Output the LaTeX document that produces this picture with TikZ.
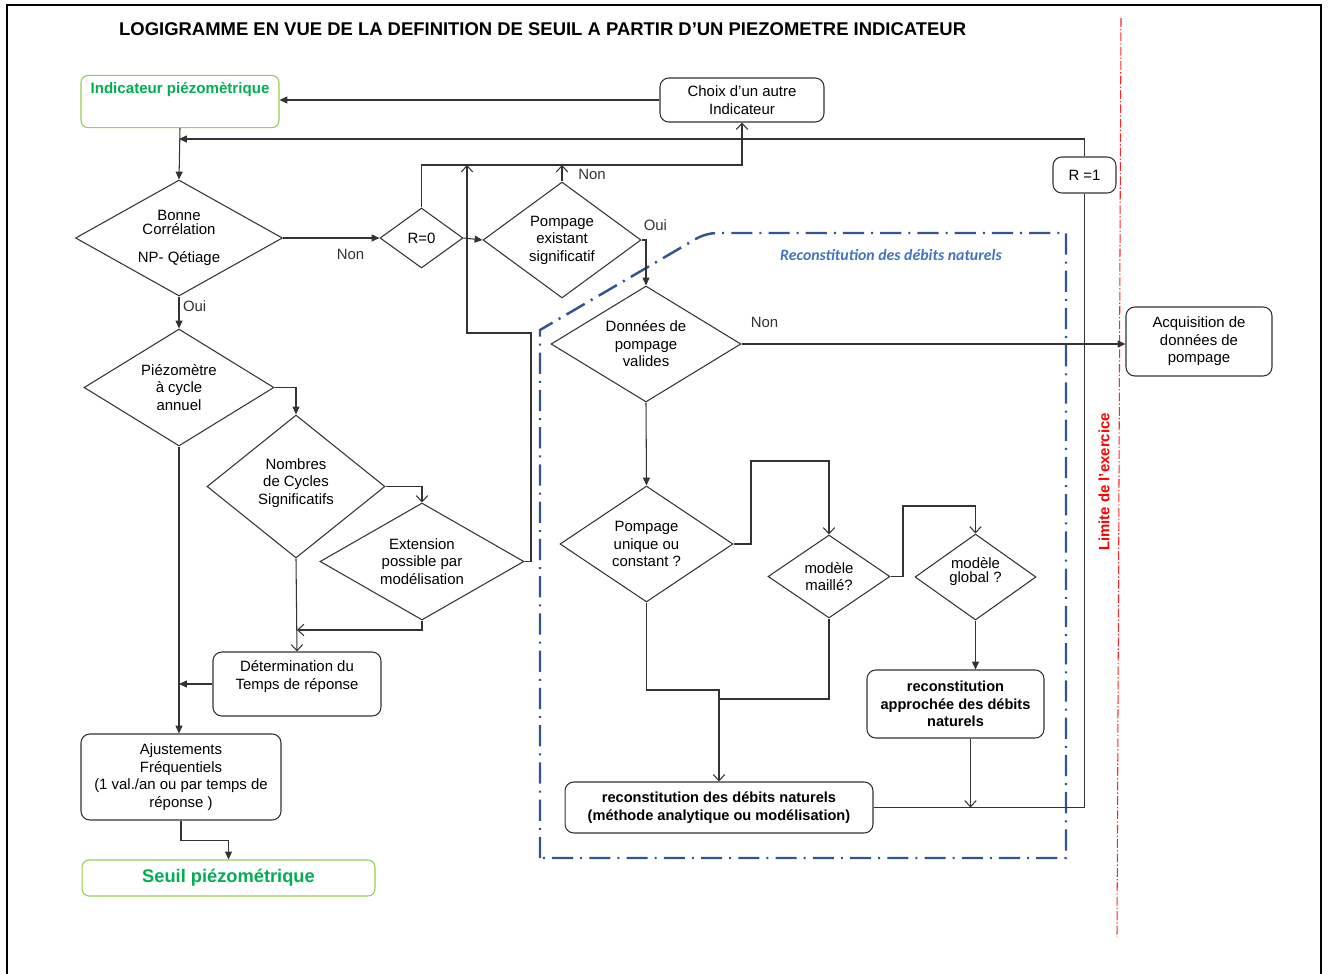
\documentclass[tikz,border=0pt]{standalone}
\usepackage{fontspec}
\setmainfont{Liberation Sans}
\newfontfamily\calibfont{Carlito}
\usetikzlibrary{arrows.meta,shapes.geometric}
\definecolor{PiezoGreen}{HTML}{00B050}
\definecolor{PiezoLime}{HTML}{92D050}
\definecolor{ReconBlue}{HTML}{2F5597}
\definecolor{ReconText}{HTML}{4472C4}
\definecolor{LimitRed}{HTML}{FF0000}

\begin{document}
\begin{tikzpicture}[x=0.02cm,y=-0.02cm,font=\fontsize{8.5}{10}\selectfont]
\tikzset{boite/.style={draw=black!80,line width=0.6pt,rounded corners=5pt,align=center,inner sep=2pt},test/.style={diamond,aspect=1.5,draw=black!80,line width=0.6pt,align=center,inner sep=0pt},borne/.style={draw=PiezoLime,line width=0.6pt,rounded corners=4pt,text=PiezoGreen,font=\fontsize{8.6}{10}\selectfont\bfseries},lien/.style={black!80,line width=0.6pt},arr/.style={lien,-{Triangle[length=4.5pt,width=4pt]}},arrv/.style={lien,-{Straight Barb[length=3.5pt,width=6.5pt]}},lbl/.style={inner sep=1pt},zone/.style={ReconBlue,line width=1.4pt,dash pattern=on 12pt off 4pt on 1.2pt off 4pt}}
\useasboundingbox (0,0) rectangle (1330,974);
\draw[line width=1.3pt] (7,974) -- (7,5) -- (1321,5) -- (1321,974);
\node[anchor=west,font=\fontsize{10.5}{12}\selectfont\bfseries] (titre) at (113,29) {LOGIGRAMME EN VUE DE LA DEFINITION DE SEUIL A PARTIR D'UN PIEZOMETRE INDICATEUR};
\draw[zone] (540,858) -- (540,330) [rounded corners=6pt] -- (706,233) [sharp corners] -- (1066,233) -- (1066,858) -- cycle;
\draw[LimitRed!85,line width=0.6pt,dash pattern=on 5pt off 1.2pt on 0.8pt off 1.2pt] (1121,18) -- (1117,937);
\node[text=ReconText,font=\calibfont\bfseries\itshape\fontsize{9}{11}\selectfont] (recon) at (891,255) {Reconstitution des débits naturels};
\node[rotate=90,text=LimitRed,font=\fontsize{8.5}{10}\selectfont\bfseries] (limite) at (1104,482) {Limite de l'exercice};
\node[borne,minimum width=3.96cm,minimum height=1.02cm,text height=7pt,text depth=16pt] (ind) at (180,101.5) {Indicateur piézomètrique};
\node[boite,minimum width=3.28cm,minimum height=0.88cm] (choix) at (742,100) {Choix d'un autre\\Indicateur};
\node[boite,minimum width=1.26cm,minimum height=0.72cm] (r1) at (1084.5,175) {R =1};
\node[test,minimum width=4.14cm,minimum height=2.32cm] (bc) at (179,238) {Bonne\\[-2pt]Corrélation\\[6pt]NP- Qétiage};
\node[test,minimum width=1.66cm,minimum height=1.2cm] (r0) at (421.5,238) {R=0};
\node[test,minimum width=3.16cm,minimum height=2.32cm] (pes) at (562,240) {Pompage\\existant\\significatif};
\node[test,minimum width=3.8cm,minimum height=2.34cm] (pca) at (179,387.5) {Piézomètre\\à cycle\\annuel};
\node[test,minimum width=3.56cm,minimum height=2.86cm] (ncs) at (296,486.5) {Nombres\\de Cycles\\Significatifs\\[-4pt]\mbox{}};
\node[test,minimum width=4.08cm,minimum height=2.34cm] (ext) at (422,561.5) {Extension\\possible par\\modélisation};
\node[boite,minimum width=3.36cm,minimum height=1.28cm] (det) at (297,684) {Détermination du\\Temps de réponse\\\mbox{}};
\node[boite,minimum width=4cm,minimum height=1.72cm] (aju) at (181,777) {Ajustements\\Fréquentiels\\(1 val./an ou par temps de\\réponse )};
\node[borne,minimum width=5.86cm,minimum height=0.72cm,font=\fontsize{10.4}{12}\selectfont\bfseries] (seuil) at (228.5,878) {Seuil piézométrique};
\node[test,minimum width=3.8cm,minimum height=2.32cm] (dpv) at (646,344) {Données de\\pompage\\valides};
\node[boite,minimum width=2.92cm,minimum height=1.38cm] (acq) at (1199,341.5) {Acquisition de\\données de\\pompage};
\node[test,minimum width=3.46cm,minimum height=2.32cm] (puc) at (646.5,544) {Pompage\\unique ou\\constant ?};
\node[test,minimum width=2.44cm,minimum height=1.66cm] (mm) at (829,576.5) {modèle\\maillé?};
\node[test,minimum width=2.42cm,minimum height=1.72cm] (mg) at (975.5,577) {modèle\\[-2pt]global ?\\[-2pt]\mbox{}};
\node[boite,minimum width=3.54cm,minimum height=1.36cm,font=\fontsize{8.3}{10}\selectfont\bfseries] (rap) at (955.5,704) {reconstitution\\approchée des débits\\naturels};
\node[boite,minimum width=6.16cm,minimum height=1.02cm,font=\fontsize{8.3}{10}\selectfont\bfseries] (rdn) at (719,807.5) {reconstitution des débits naturels\\(méthode analytique ou modélisation)};
\coordinate (jtop) at (179,139);
\coordinate (jnon) at (742,165);
\coordinate (jext) at (467,165);
\coordinate (jdet) at (297,630);
\coordinate (jrdn) at (719,690);
\coordinate (rapout) at ([xshift=0.3cm]rap.south);
\draw[arr] (choix.west) -- (choix.west -| ind.east);
\draw[arr] (ind.south) -- (bc.north);
\draw[arr] (r1.north) |- (jtop);
\draw[lien] (rdn.east) -| (r1.south);
\draw[arrv] (rapout) -- (rapout |- rdn.east);
\draw[arr] (bc.east) -- node[lbl,below=5pt,pos=0.7]{Non} (r0.west);
\draw[arr] (r0.east) -- (pes.west);
\draw[arrv] (r0.north) |- (jnon) -- (choix.south);
\draw[arrv] (pes.north) -- node[lbl,right=8pt,pos=0.4]{Non} (pes.north |- jnon);
\draw[arrv] (ext.east) -| (531,333) -| (jext);
\draw[arr] (pes.east) -| node[lbl,anchor=south west,yshift=4pt,pos=0]{Oui} (dpv.north);
\draw[arr] (bc.south) -- node[lbl,right=1pt,pos=0.3]{Oui} (pca.north);
\draw[arr] (pca.east) -| (ncs.north);
\draw[arrv] (ncs.east) -| (ext.north);
\draw[arrv] (ncs.south) -- (det.north);
\draw[arrv] (ext.south) |- (jdet);
\draw[arr] (pca.south) -- (pca.south |- aju.north);
\draw[arr] (det.west) -- (det.west -| pca.south);
\draw[arr] (aju.south) -- ++(0,20) -| (seuil.north);
\draw[arr] (dpv.east) -- node[lbl,above=8pt,pos=0.06]{Non} (dpv.east -| acq.west);
\draw[arr] (dpv.south) -- (puc.north);
\draw[arrv] (puc.east) -| (751,461) -| (mm.north);
\draw[arrv] (mm.east) -| (903,506) -| (mg.north);
\draw[arr] (mg.south) -- (mg.south |- rap.north);
\draw[arrv] (puc.south) |- (jrdn) -- (rdn.north);
\draw[lien] (mm.south) |- (719,699);
\end{tikzpicture}
\end{document}
